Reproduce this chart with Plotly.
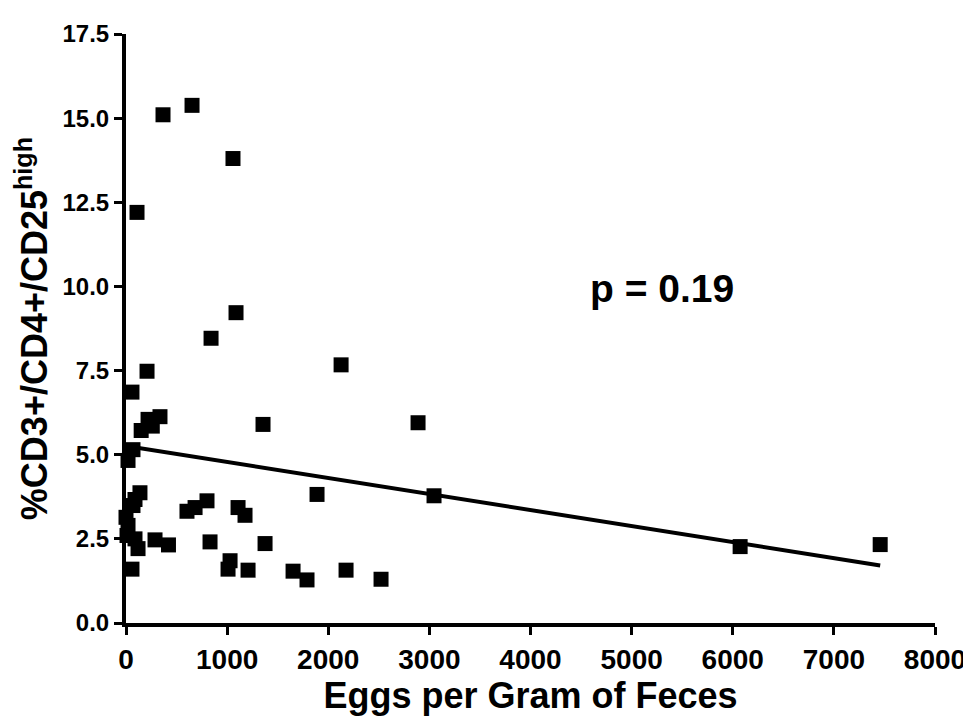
import plotly.graph_objects as go

# Data
eggs_per_gram = [366, 653, 1058, 109, 1088, 841, 208, 59, 2127, 2888, 1355, 3046,
                 1889, 2176, 2522, 1790, 336, 218, 260, 150, 69, 20, 138, 89, 69,
                 603, 683, 801, 1108, 1177, 0, 20, 10, 89, 287, 420, 119, 831, 1375,
                 1029, 1009, 1207, 1652, 59, 6073, 7458]
pct_cd25_high = [15.1, 15.38, 13.8, 12.2, 9.22, 8.46, 7.48, 6.86, 7.67, 5.95, 5.9, 3.78,
                 3.82, 1.57, 1.3, 1.28, 6.13, 6.05, 5.85, 5.72, 5.15, 4.83, 3.87, 3.67, 3.49,
                 3.32, 3.43, 3.63, 3.43, 3.2, 3.14, 2.9, 2.6, 2.5, 2.47, 2.32, 2.21, 2.41, 2.36,
                 1.85, 1.6, 1.57, 1.54, 1.6, 2.27, 2.33]

# Regression line parameters
fit_intercept = 5.26
fit_slope = -0.000476
p_value_text = "p = 0.19"

x_tick_vals = [0, 1000, 2000, 3000, 4000, 5000, 6000, 7000, 8000]
y_tick_vals = [0.0, 2.5, 5.0, 7.5, 10.0, 12.5, 15.0, 17.5]

FONT = "Liberation Sans, Arial, Helvetica, sans-serif"
NARROW = "Liberation Sans Narrow, Arial Narrow, Liberation Sans, sans-serif"

x_line = [min(eggs_per_gram), max(eggs_per_gram)]
y_line = [fit_intercept + fit_slope * v for v in x_line]

fig = go.Figure()
fig.add_trace(go.Scatter(
    x=x_line, y=y_line, mode="lines",
    line=dict(color="black", width=4),
    showlegend=False, hoverinfo="skip",
))
fig.add_trace(go.Scatter(
    x=eggs_per_gram, y=pct_cd25_high, mode="markers",
    marker=dict(symbol="square", size=15, color="black", line=dict(width=0)),
    showlegend=False, cliponaxis=False,
))

fig.add_annotation(
    x=0.662, y=0.568, xref="paper", yref="paper",
    text=p_value_text, showarrow=False,
    font=dict(family=FONT, size=39, color="black", weight="bold"),
    xanchor="center", yanchor="middle",
)

fig.update_layout(
    width=971, height=725,
    margin=dict(l=118, r=44, t=14, b=110),
    paper_bgcolor="white", plot_bgcolor="white",
    showlegend=False,
)
fig.update_xaxes(
    range=[0, 8000], tickvals=x_tick_vals,
    showgrid=False, zeroline=False,
    showline=True, linecolor="black", linewidth=4,
    ticks="outside", ticklen=8, tickwidth=3, tickcolor="black",
    tickfont=dict(family=NARROW, size=28, color="black", weight="bold"),
    title=dict(text="Eggs per Gram of Feces", standoff=10,
               font=dict(family=FONT, size=36, color="black", weight="bold")),
)
fig.update_yaxes(
    range=[0, 17.5], tickvals=y_tick_vals, tickformat=".1f",
    showgrid=False, zeroline=False,
    showline=True, linecolor="black", linewidth=4,
    ticks="outside", ticklen=8, tickwidth=3, tickcolor="black",
    tickfont=dict(family=FONT, size=24, color="black", weight="bold"),
    title=dict(text="%CD3+/CD4+/CD25<sup>high</sup>", standoff=5,
               font=dict(family=FONT, size=36, color="black", weight="bold")),
)

fig.write_html("out.html")
